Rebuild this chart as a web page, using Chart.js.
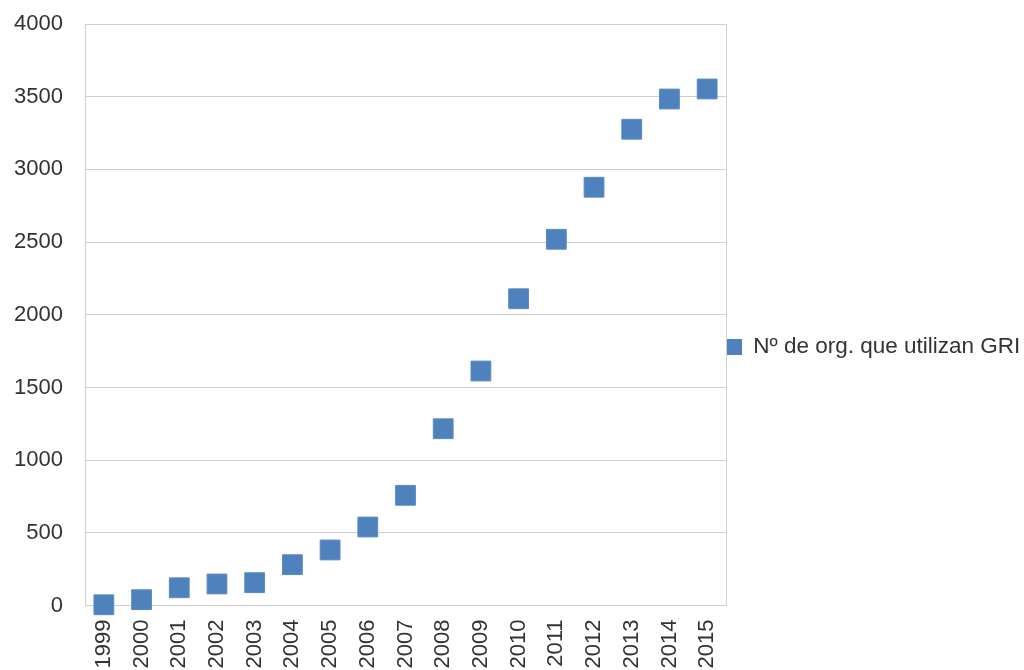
<!DOCTYPE html>
<html>
<head>
<meta charset="utf-8">
<script src="https://cdn.jsdelivr.net/npm/chart.js@4/dist/chart.umd.min.js"></script>
<style>
  html, body { margin: 0; padding: 0; background: #ffffff; }
  #wrap { width: 1024px; height: 670px; }
</style>
</head>
<body>
<div id="wrap"><canvas id="c" width="1024" height="670"></canvas></div>
<script>
// Organisations reporting with GRI guidelines, per year
const years = ['1999','2000','2001','2002','2003','2004','2005','2006','2007',
               '2008','2009','2010','2011','2012','2013','2014','2015'];
const orgCounts = [5, 40, 122, 148, 157, 281, 382, 540, 758,
                   1216, 1613, 2110, 2519, 2877, 3276, 3484, 3553];
const seriesName = 'Nº de org. que utilizan GRI';
const yTicks = [0, 500, 1000, 1500, 2000, 2500, 3000, 3500, 4000];

const FONT = "'Liberation Sans', Arial, sans-serif";
const TEXT = '#333333';
const GRID = '#cfcfcf';
const BLUE = '#4F81BD';

new Chart(document.getElementById('c'), {
  type: 'line',
  data: {
    labels: years,
    datasets: [{
      label: seriesName,
      data: orgCounts,
      showLine: false,
      clip: false,
      pointStyle: 'rect',
      pointRadius: 14,
      pointHoverRadius: 14,
      pointBackgroundColor: BLUE,
      pointBorderColor: '#5a8ac3',
      pointBorderWidth: 1,
      backgroundColor: BLUE,
      borderColor: BLUE,
      borderWidth: 0
    }]
  },
  options: {
    responsive: false,
    animation: false,
    devicePixelRatio: 1,
    layout: { padding: { top: 24, bottom: 0, left: 0, right: 0 } },
    plugins: {
      legend: {
        position: 'right',
        maxWidth: 298,
        labels: {
          boxWidth: 16,
          boxHeight: 16,
          padding: 0,
          color: TEXT,
          font: { family: FONT, size: 22.5 }
        }
      },
      tooltip: { enabled: false }
    },
    scales: {
      x: {
        type: 'category',
        offset: true,
        grid: { display: false, drawTicks: false },
        border: { display: true, color: GRID, width: 1 },
        ticks: {
          color: TEXT,
          font: { family: FONT, size: 22 },
          minRotation: 90,
          maxRotation: 90,
          padding: 14,
          autoSkip: false
        },
        afterFit: (axis) => { axis.height = 64.5; }
      },
      y: {
        min: 0,
        max: 4000,
        afterBuildTicks: (axis) => { axis.ticks = yTicks.map(v => ({ value: v })); },
        grid: { color: GRID, lineWidth: 1, drawTicks: false },
        border: { display: true, color: GRID, width: 1 },
        ticks: {
          color: TEXT,
          font: { family: FONT, size: 22 },
          padding: 22,
          callback: (v) => String(v)
        },
        afterFit: (axis) => {
          axis.width = 85;
          axis.paddingTop = 0;
          axis.paddingBottom = 0;
        }
      },
      y2: {
        position: 'right',
        min: 0,
        max: 4000,
        grid: { display: false, drawTicks: false },
        border: { display: true, color: GRID, width: 1 },
        ticks: { display: false },
        afterFit: (axis) => { axis.width = 0; }
      }
    }
  }
});
</script>
</body>
</html>
